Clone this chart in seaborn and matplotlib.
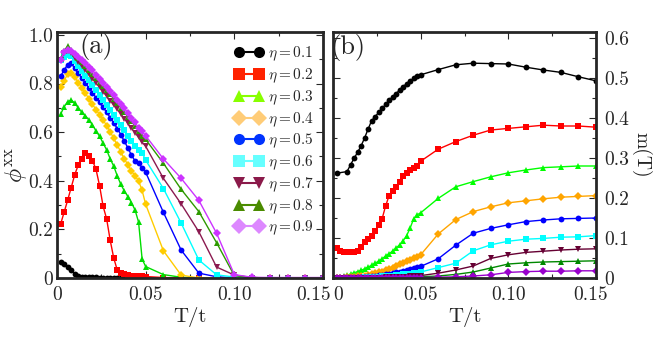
import pandas as pd
import seaborn as sns
import matplotlib.pyplot as plt
from matplotlib.lines import Line2D
from matplotlib.ticker import MultipleLocator
from matplotlib.transforms import ScaledTranslation

# temperature grid T/t (dense below 0.05, then every 0.01)
T = [0.002, 0.004, 0.006, 0.008, 0.010, 0.012, 0.014, 0.016, 0.018, 0.020,
     0.022, 0.024, 0.026, 0.028, 0.030, 0.032, 0.034, 0.036, 0.038, 0.040,
     0.042, 0.044, 0.046, 0.048, 0.05, 0.06, 0.07, 0.08, 0.09, 0.10,
     0.11, 0.12, 0.13, 0.14, 0.15]

ETAS = ["0.1", "0.2", "0.3", "0.4", "0.5", "0.6", "0.7", "0.8", "0.9"]

# panel (a): phi^xx
PHI_01 = [0.065, 0.058, 0.047, 0.032, 0.018, 0.010, 0.006, 0.004, 0.003, 0.003,
          0.003, 0.002, 0.002, 0.002, 0.002, 0.002, 0.002, 0.001, 0.001, 0.001,
          0.001, 0.001, 0.001, 0.001, 0.0, 0.0, 0.0, 0.0, 0.0, 0.0,
          0.0, 0.0, 0.0, 0.0, 0.0]
PHI_02 = [0.221, 0.270, 0.320, 0.372, 0.425, 0.465, 0.490, 0.515, 0.500, 0.483,
          0.447, 0.380, 0.295, 0.243, 0.155, 0.082, 0.032, 0.020, 0.015, 0.012,
          0.010, 0.010, 0.008, 0.008, 0.006, 0.002, 0.0, 0.0, 0.0, 0.0,
          0.0, 0.0, 0.0, 0.0, 0.0]
PHI_03 = [0.673, 0.704, 0.725, 0.732, 0.720, 0.700, 0.682, 0.668, 0.650, 0.630,
          0.605, 0.583, 0.555, 0.527, 0.490, 0.460, 0.420, 0.385, 0.358, 0.335,
          0.310, 0.280, 0.230, 0.078, 0.047, 0.014, 0.003, 0.0, 0.0, 0.0,
          0.0, 0.0, 0.0, 0.0, 0.0]
PHI_04 = [0.787, 0.812, 0.838, 0.845, 0.826, 0.804, 0.783, 0.760, 0.737, 0.714,
          0.693, 0.672, 0.650, 0.627, 0.602, 0.574, 0.547, 0.518, 0.490, 0.465,
          0.440, 0.420, 0.400, 0.360, 0.303, 0.112, 0.012, 0.0, 0.0, 0.0,
          0.0, 0.0, 0.0, 0.0, 0.0]
PHI_05 = [0.830, 0.855, 0.878, 0.885, 0.862, 0.842, 0.822, 0.802, 0.782, 0.762,
          0.742, 0.722, 0.702, 0.682, 0.660, 0.638, 0.615, 0.590, 0.562, 0.535,
          0.505, 0.482, 0.475, 0.452, 0.435, 0.270, 0.115, 0.020, 0.005, 0.0,
          0.0, 0.0, 0.0, 0.0, 0.0]
PHI_06 = [0.895, 0.910, 0.918, 0.912, 0.893, 0.873, 0.853, 0.833, 0.813, 0.793,
          0.773, 0.752, 0.732, 0.712, 0.692, 0.671, 0.650, 0.628, 0.607, 0.585,
          0.563, 0.541, 0.528, 0.515, 0.485, 0.368, 0.226, 0.074, 0.013, 0.004,
          0.0, 0.0, 0.0, 0.0, 0.0]
PHI_07 = [0.895, 0.925, 0.935, 0.925, 0.907, 0.890, 0.873, 0.856, 0.838, 0.820,
          0.802, 0.784, 0.766, 0.748, 0.730, 0.712, 0.694, 0.675, 0.656, 0.636,
          0.617, 0.598, 0.578, 0.558, 0.542, 0.410, 0.305, 0.190, 0.045, 0.012,
          0.002, 0.0, 0.0, 0.0, 0.0]
PHI_08 = [0.900, 0.935, 0.953, 0.940, 0.922, 0.905, 0.888, 0.872, 0.856, 0.840,
          0.823, 0.806, 0.789, 0.772, 0.755, 0.737, 0.719, 0.701, 0.682, 0.663,
          0.644, 0.625, 0.605, 0.585, 0.570, 0.472, 0.365, 0.273, 0.145, 0.010,
          0.002, 0.0, 0.0, 0.0, 0.0]
PHI_09 = [0.898, 0.928, 0.940, 0.935, 0.922, 0.910, 0.898, 0.886, 0.870, 0.854,
          0.837, 0.820, 0.803, 0.786, 0.770, 0.751, 0.734, 0.717, 0.698, 0.678,
          0.658, 0.640, 0.618, 0.603, 0.585, 0.490, 0.410, 0.319, 0.184, 0.014,
          0.003, 0.002, 0.002, 0.002, 0.002]

# panel (b): m(T)
M_01 = [0.262, None, None, 0.266, 0.283, 0.299, 0.314, 0.330, 0.350, 0.372,
        0.393, 0.403, 0.414, 0.424, 0.434, 0.444, 0.453, 0.461, 0.470, 0.478,
        0.486, 0.493, 0.499, 0.504, 0.508, 0.521, 0.533, 0.537, 0.536, 0.535,
        0.527, 0.520, 0.514, 0.503, 0.493]
M_02 = [0.075, 0.068, 0.065, 0.065, 0.066, 0.066, 0.068, 0.078, 0.090, 0.098,
        0.104, 0.118, 0.133, 0.148, 0.180, 0.206, 0.218, 0.228, 0.240, 0.255,
        0.263, 0.270, 0.275, 0.280, 0.292, 0.322, 0.341, 0.357, 0.370, 0.374,
        0.378, 0.382, 0.380, 0.380, 0.377]
M_03 = [0.002, 0.003, 0.005, 0.007, 0.010, 0.013, 0.016, 0.019, 0.023, 0.027,
        0.032, 0.037, 0.042, 0.048, 0.055, 0.061, 0.067, 0.075, 0.083, 0.093,
        0.106, 0.125, 0.148, 0.158, 0.163, 0.199, 0.228, 0.241, 0.253, 0.263,
        0.270, 0.276, 0.278, 0.280, 0.280]
M_04 = [0.0005, 0.001, 0.001, 0.002, 0.002, 0.003, 0.004, 0.005, 0.006, 0.008,
        0.010, 0.012, 0.014, 0.016, 0.019, 0.022, 0.026, 0.030, 0.034, 0.038,
        0.042, 0.046, 0.050, 0.053, 0.058, 0.110, 0.146, 0.166, 0.178, 0.188,
        0.193, 0.198, 0.202, 0.204, 0.206]
M_05 = [0.0, 0.0005, 0.001, 0.001, 0.001, 0.001, 0.002, 0.002, 0.003, 0.004,
        0.005, 0.006, 0.007, 0.008, 0.009, 0.011, 0.012, 0.014, 0.016, 0.018,
        0.020, 0.023, 0.025, 0.027, 0.029, 0.048, 0.082, 0.112, 0.124, 0.133,
        0.141, 0.145, 0.148, 0.149, 0.150]
M_06 = [0.0, 0.0, 0.0, 0.0005, 0.0005, 0.001, 0.001, 0.001, 0.002, 0.002,
        0.002, 0.003, 0.003, 0.004, 0.004, 0.005, 0.006, 0.007, 0.008, 0.009,
        0.010, 0.011, 0.012, 0.013, 0.015, 0.026, 0.037, 0.068, 0.083, 0.092,
        0.097, 0.099, 0.102, 0.103, 0.106]
M_07 = [0.0, 0.0, 0.0, 0.0, 0.0, 0.0, 0.0, 0.0005, 0.0005, 0.0005,
        0.001, 0.001, 0.001, 0.001, 0.002, 0.002, 0.002, 0.002, 0.003, 0.003,
        0.003, 0.004, 0.004, 0.005, 0.006, 0.012, 0.020, 0.030, 0.049, 0.058,
        0.064, 0.067, 0.070, 0.072, 0.073]
M_08 = [0.0, 0.0, 0.0, 0.0, 0.0, 0.0, 0.0, 0.0, 0.0005, 0.0005,
        0.0005, 0.0005, 0.0005, 0.0005, 0.0005, 0.0005, 0.001, 0.001, 0.001, 0.001,
        0.001, 0.001, 0.001, 0.001, 0.003, 0.005, 0.009, 0.015, 0.025, 0.035,
        0.038, 0.040, 0.041, 0.042, 0.043]
M_09 = [0.0, 0.0, 0.0, 0.0, 0.0, 0.0, 0.0, 0.0, 0.0, 0.0,
        0.0, 0.0, 0.0, 0.0, 0.0005, 0.0005, 0.0005, 0.0005, 0.0005, 0.0005,
        0.001, 0.001, 0.001, 0.001, 0.001, 0.002, 0.003, 0.005, 0.008, 0.014,
        0.016, 0.017, 0.017, 0.018, 0.018]

PHI = [PHI_01, PHI_02, PHI_03, PHI_04, PHI_05, PHI_06, PHI_07, PHI_08, PHI_09]
M = [M_01, M_02, M_03, M_04, M_05, M_06, M_07, M_08, M_09]

MARKERS = ["o", "s", "^", "D", "o", "s", "v", "^", "D"]
COLORS_A = ["#000000", "#ff0000", "#00dd00", "#ffcc00", "#0000ff",
            "#00ffff", "#8b1a50", "#2e9900", "#cc33ff"]
COLORS_B = ["#000000", "#ff0000", "#00ff00", "#ffa500", "#0000ff",
            "#00ffff", "#660033", "#008800", "#9900cc"]
COLORS_LEG = ["#000000", "#ff2200", "#88ff00", "#ffcc77", "#0033ff",
              "#66ffff", "#8b1a4a", "#4a8b00", "#dd88ff"]


def long_frame(series, name):
    rows = []
    for eta, vals in zip(ETAS, series):
        for t, v in zip(T, vals):
            rows.append({"T": t, name: v, "eta": eta})
    return pd.DataFrame(rows).dropna()


def style_axes(ax):
    for sp in ax.spines.values():
        sp.set_linewidth(2)
    ax.set_xlim(0, 0.15)
    ax.xaxis.set_minor_locator(MultipleLocator(0.025))
    ax.tick_params(which="both", direction="in", top=True, right=True,
                   width=0.8, labelsize=14)
    ax.tick_params(which="major", length=5)
    ax.tick_params(which="minor", length=3)
    ax.tick_params(axis="x", pad=6)
    ax.set_xticks([0, 0.05, 0.10, 0.15])
    ax.set_xticklabels(["0", "0.05", "0.10", "0.15"])
    ax.set_xlabel("T/t", fontsize=15, labelpad=2)


def nudge(label, dx_pt):
    label.set_transform(label.get_transform()
                        + ScaledTranslation(dx_pt / 72, 0, fig.dpi_scale_trans))


sns.set_style("ticks")
plt.rcParams["font.family"] = ["cmr10", "DejaVu Serif"]
plt.rcParams["mathtext.fontset"] = "cm"
plt.rcParams["axes.unicode_minus"] = False
plt.rcParams["axes.formatter.use_mathtext"] = True

fig = plt.figure(figsize=(6.54, 3.55), dpi=100)
ax_a = fig.add_axes([57 / 654, 77 / 355, 266 / 654, 246 / 355])
ax_b = fig.add_axes([333 / 654, 77 / 355, 263 / 654, 246 / 355])

df_a = long_frame(PHI, "phi")
df_b = long_frame(M, "m")

sns.lineplot(data=df_a, x="T", y="phi", hue="eta", style="eta",
             hue_order=ETAS, style_order=ETAS,
             palette=dict(zip(ETAS, COLORS_A)), markers=dict(zip(ETAS, MARKERS)),
             dashes=False, errorbar=None, legend=False, ax=ax_a,
             linewidth=1.0, markersize=4.2, markeredgewidth=0)
sns.lineplot(data=df_b, x="T", y="m", hue="eta", style="eta",
             hue_order=ETAS, style_order=ETAS,
             palette=dict(zip(ETAS, COLORS_B)), markers=dict(zip(ETAS, MARKERS)),
             dashes=False, errorbar=None, legend=False, ax=ax_b,
             linewidth=1.0, markersize=4.2, markeredgewidth=0)

# panel (a)
style_axes(ax_a)
ax_a.set_ylim(0, 1.012)
ax_a.yaxis.set_minor_locator(MultipleLocator(0.1))
ax_a.set_yticks([0, 0.2, 0.4, 0.6, 0.8, 1.0])
ax_a.set_yticklabels(["0", "0.2", "0.4", "0.6", "0.8", "1.0"])
ax_a.tick_params(axis="y", pad=3)
ax_a.set_ylabel(r"$\phi^{\rm xx}$", fontsize=17, labelpad=0)
ax_a.yaxis.set_label_coords(-0.1, 0.46)
ax_a.text(0.147, 0.94, "(a)", transform=ax_a.transAxes, fontsize=19,
          ha="center", va="center")
nudge(ax_a.get_xticklabels()[-1], -7)

handles = [Line2D([0], [0], color=c, marker=m, markersize=8, linewidth=1.5,
                  markeredgewidth=0)
           for c, m in zip(COLORS_LEG, MARKERS)]
ax_a.legend(handles, [rf"$\eta = {e}$" for e in ETAS], loc="upper right",
            bbox_to_anchor=(1.0, 0.985), frameon=False, fontsize=11,
            numpoints=2, handlelength=1.9, handletextpad=0.3,
            labelspacing=0.22, borderaxespad=0.2)

# panel (b)
style_axes(ax_b)
ax_b.set_ylim(0, 0.615)
ax_b.yaxis.set_minor_locator(MultipleLocator(0.05))
ax_b.set_yticks([0, 0.1, 0.2, 0.3, 0.4, 0.5, 0.6])
ax_b.set_yticklabels(["0", "0.1", "0.2", "0.3", "0.4", "0.5", "0.6"])
ax_b.tick_params(axis="y", left=True, right=True, labelleft=False,
                 labelright=True, pad=6)
ax_b.yaxis.set_label_position("right")
ax_b.set_ylabel("m(T)", fontsize=14, rotation=270, labelpad=16)
ax_b.text(0.057, 0.935, "(b)", transform=ax_b.transAxes, fontsize=19,
          ha="center", va="center")
nudge(ax_b.get_xticklabels()[0], 4)
nudge(ax_b.get_xticklabels()[-1], -4)

fig.savefig("out.png", dpi=100)
